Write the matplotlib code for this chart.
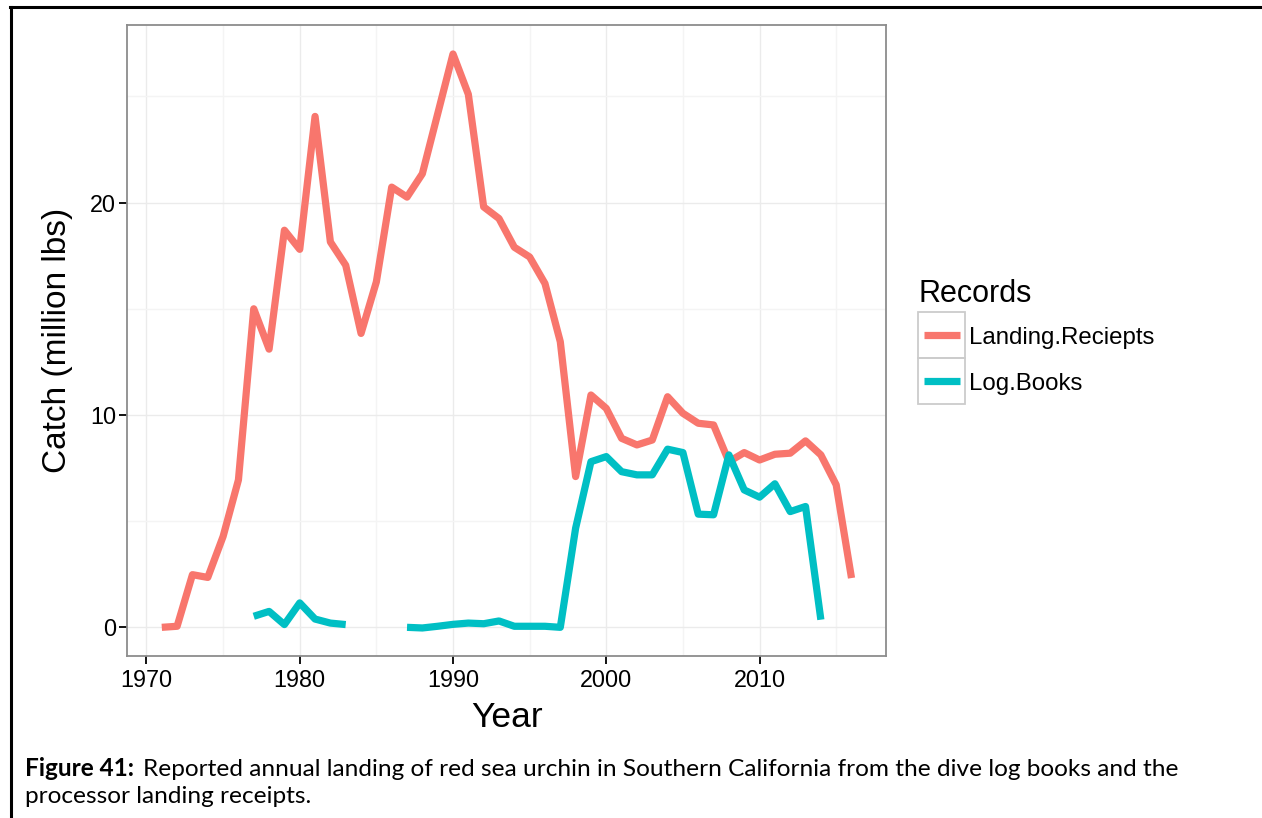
import numpy as np
import matplotlib
matplotlib.use("Agg")
import matplotlib.pyplot as plt
from matplotlib.lines import Line2D
from matplotlib.patches import Rectangle

# Data (million lbs)
years = np.arange(1971, 2017)
landing_receipts = [
    0.0, 0.05, 2.48, 2.35, 4.28, 6.94, 15.0, 13.1, 18.7, 17.8,
    24.06, 18.15, 17.05, 13.84, 16.27, 20.73, 20.26, 21.36, 24.18, 27.0,
    25.1, 19.8, 19.25, 17.9, 17.44, 16.19, 13.45, 7.1, 10.94, 10.31,
    8.9, 8.59, 8.82, 10.86, 10.08, 9.61, 9.53, 7.8, 8.23, 7.88,
    8.15, 8.2, 8.78, 8.12, 6.71, 2.32,
]
log_years = np.arange(1977, 2015)
log_books = [
    0.52, 0.75, 0.13, 1.15, 0.39, 0.2, 0.13, np.nan, np.nan, np.nan,
    0.0, -0.03, 0.05, 0.14, 0.2, 0.17, 0.3, 0.05, 0.05, 0.05,
    0.0, 4.67, 7.8, 8.04, 7.33, 7.18, 7.18, 8.39, 8.23, 5.33,
    5.3, 8.12, 6.47, 6.13, 6.76, 5.45, 5.69, 0.36,
]
series_names = ["Landing.Reciepts", "Log.Books"]
colors = ["#F8766D", "#00BFC4"]

W, H = 1262, 818


def fx(px):
    return px / W


def fy(py):
    return 1 - py / H


def main():
    plt.rcParams["font.family"] = ["Liberation Sans", "DejaVu Sans"]
    fig = plt.figure(figsize=(W / 100, H / 100), dpi=100)

    left, right, top, bottom = 127.3, 886, 25.3, 656
    ax = fig.add_axes([fx(left), fy(bottom), fx(right - left), (bottom - top) / H])

    ax.plot(years, landing_receipts, color=colors[0], lw=5.2,
            solid_capstyle="butt", solid_joinstyle="round", zorder=3)
    ax.plot(log_years, log_books, color=colors[1], lw=5.2,
            solid_capstyle="butt", solid_joinstyle="round", zorder=3)

    ax.set_xlim(1968.75, 2018.25)
    ax.set_ylim(-1.35, 28.35)
    ax.set_xticks([1970, 1980, 1990, 2000, 2010])
    ax.set_yticks([0, 10, 20])
    ax.set_xticks(np.arange(1975, 2020, 10), minor=True)
    ax.set_yticks([5, 15, 25], minor=True)
    ax.grid(which="major", color="#EBEBEB", lw=1.0, zorder=0)
    ax.grid(which="minor", color="#F4F4F4", lw=1.0, zorder=0)
    ax.tick_params(which="minor", length=0)
    ax.tick_params(which="major", length=5.5, width=1.3, color="black",
                   labelsize=16.8, labelcolor="black")
    ax.tick_params(axis="x", pad=4)
    ax.tick_params(axis="y", pad=2.5)
    for s in ax.spines.values():
        s.set_color("#8C8C8C")
        s.set_linewidth(1.3)

    ax.set_xlabel("Year", fontsize=25.5, va="top")
    ax.xaxis.set_label_coords(0.5, -0.071)
    ax.set_ylabel("Catch (million lbs)", fontsize=24)
    ax.yaxis.set_label_coords(-0.072, 0.5)

    # legend drawn in ggplot style (boxed keys)
    fig.text(fx(919), fy(294), "Records", fontsize=22, va="center", ha="left")
    for i, (name, c) in enumerate(zip(series_names, colors)):
        y0 = 312 + i * 46
        fig.add_artist(Rectangle((fx(918), fy(y0 + 46)), fx(47), 46 / H,
                                 transform=fig.transFigure, fill=False,
                                 edgecolor="#CCCCCC", lw=1.3))
        cy = y0 + 23
        fig.add_artist(Line2D([fx(924), fx(960)], [fy(cy), fy(cy)], color=c,
                              lw=5.2, solid_capstyle="butt",
                              transform=fig.transFigure))
        fig.text(fx(969), fy(cy + 3), name, fontsize=17.3, va="center", ha="left")

    # page frame (top and left edges)
    fig.add_artist(Line2D([fx(10), 1], [fy(6.5), fy(6.5)], color="black", lw=2.2,
                          transform=fig.transFigure))
    fig.add_artist(Line2D([fx(10.5), fx(10.5)], [fy(6.5), 0], color="black", lw=2.2,
                          transform=fig.transFigure))

    # caption
    cap_font = ["Lato", "DejaVu Sans"]
    cap_size = 17.6
    t = fig.text(fx(25), fy(776), "Figure 41:", fontsize=cap_size, fontweight="bold",
                 family=cap_font, va="baseline", ha="left")
    fig.canvas.draw()
    bb = t.get_window_extent()
    fig.text(bb.x1 / W + fx(9), fy(776),
             "Reported annual landing of red sea urchin in Southern California "
             "from the dive log books and the",
             fontsize=cap_size, family=cap_font, va="baseline", ha="left")
    fig.text(fx(25), fy(803), "processor landing receipts.", fontsize=cap_size,
             family=cap_font, va="baseline", ha="left")

    fig.savefig("out.png", dpi=100)


if __name__ == "__main__":
    main()
